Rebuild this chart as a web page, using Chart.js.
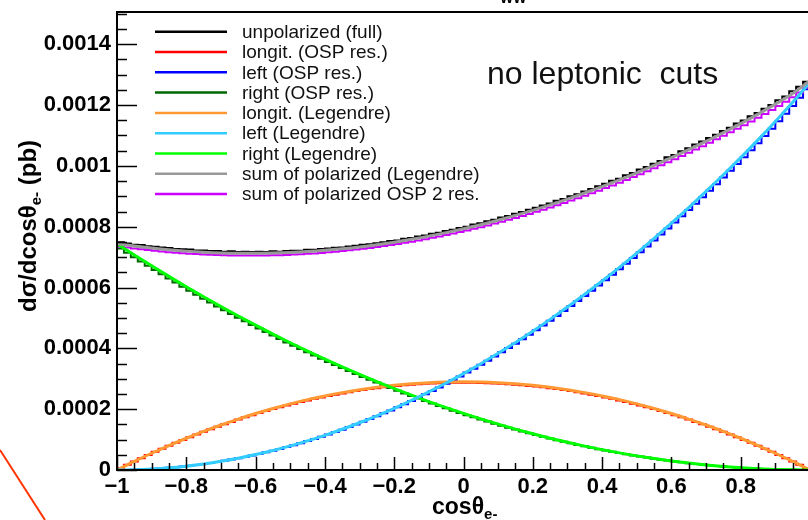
<!DOCTYPE html>
<html><head><meta charset="utf-8">
<script src="https://cdn.jsdelivr.net/npm/chart.js@4/dist/chart.umd.min.js"></script>
<style>
html,body{margin:0;padding:0;background:#fff;overflow:hidden;width:808px;height:520px;}
#wrap{position:absolute;left:0;top:0;width:830px;height:520px;}
</style></head><body>
<div id="wrap"><canvas id="c" width="830" height="520"></canvas></div>
<script>
// x: cos(theta_e-) ; y: dsigma/dcos in units of 1e-4 pb
const xMin = -1, xMax = 1, nBins = 100;
const yTop = 15.06;

// histograms (100 bins, values per bin, units 1e-4 pb)
const unpolarizedFull = [7.49,7.45,7.41,7.40,7.36,7.34,7.32,7.30,7.27,7.26,
7.25,7.22,7.22,7.20,7.20,7.18,7.19,7.17,7.18,7.17,
7.18,7.17,7.19,7.18,7.20,7.21,7.21,7.24,7.24,7.27,
7.28,7.31,7.32,7.35,7.37,7.41,7.42,7.46,7.49,7.53,
7.55,7.60,7.63,7.68,7.71,7.77,7.80,7.86,7.90,7.96,
8.00,8.07,8.11,8.18,8.23,8.30,8.35,8.43,8.48,8.56,
8.62,8.70,8.76,8.85,8.91,9.00,9.07,9.16,9.24,9.33,
9.41,9.51,9.58,9.69,9.77,9.88,9.96,10.07,10.16,10.28,
10.36,10.48,10.58,10.70,10.80,10.92,11.02,11.15,11.25,11.39,
11.49,11.63,11.74,11.88,12.00,12.16,12.28,12.45,12.60,12.77];

const longitOSP = [0.057,0.170,0.280,0.388,0.493,0.597,0.698,0.796,0.893,0.987,
1.079,1.168,1.256,1.341,1.423,1.504,1.582,1.657,1.731,1.802,
1.871,1.938,2.002,2.064,2.124,2.181,2.236,2.289,2.339,2.388,
2.434,2.477,2.518,2.558,2.594,2.629,2.661,2.691,2.718,2.743,
2.766,2.787,2.805,2.822,2.835,2.847,2.856,2.863,2.867,2.870,
2.870,2.867,2.863,2.856,2.847,2.835,2.822,2.805,2.787,2.766,
2.743,2.718,2.691,2.661,2.629,2.594,2.558,2.518,2.477,2.434,
2.388,2.339,2.289,2.236,2.181,2.124,2.064,2.002,1.938,1.871,
1.802,1.731,1.657,1.582,1.504,1.423,1.341,1.256,1.168,1.079,
0.987,0.893,0.796,0.698,0.597,0.493,0.388,0.280,0.170,0.057];

const leftOSP = [0.000,0.003,0.008,0.015,0.025,0.038,0.053,0.071,0.091,0.113,
0.138,0.166,0.196,0.229,0.264,0.302,0.342,0.385,0.430,0.478,
0.528,0.581,0.636,0.694,0.754,0.817,0.882,0.950,1.020,1.093,
1.168,1.246,1.327,1.410,1.495,1.583,1.673,1.766,1.862,1.960,
2.060,2.163,2.269,2.377,2.487,2.600,2.716,2.834,2.954,3.078,
3.203,3.331,3.462,3.595,3.731,3.869,4.010,4.153,4.298,4.447,
4.597,4.751,4.906,5.065,5.225,5.389,5.554,5.723,5.894,6.067,
6.243,6.421,6.602,6.785,6.971,7.160,7.350,7.544,7.740,7.938,
8.139,8.343,8.549,8.757,8.968,9.182,9.398,9.616,9.837,10.061,
10.287,10.516,10.747,10.980,11.220,11.465,11.715,11.970,12.240,12.520];

const rightOSP = [7.287,7.141,6.997,6.854,6.713,6.573,6.434,6.297,6.162,6.028,
5.896,5.765,5.635,5.507,5.380,5.255,5.132,5.009,4.889,4.770,
4.652,4.535,4.421,4.307,4.195,4.085,3.976,3.869,3.763,3.658,
3.555,3.453,3.353,3.255,3.158,3.062,2.968,2.875,2.784,2.694,
2.606,2.519,2.433,2.349,2.267,2.186,2.106,2.029,1.952,1.877,
1.803,1.731,1.661,1.591,1.524,1.458,1.393,1.329,1.268,1.207,
1.148,1.091,1.035,0.981,0.928,0.876,0.826,0.777,0.730,0.685,
0.641,0.598,0.557,0.517,0.479,0.442,0.407,0.373,0.340,0.309,
0.280,0.252,0.225,0.200,0.177,0.155,0.134,0.115,0.097,0.081,
0.066,0.053,0.041,0.031,0.022,0.015,0.009,0.005,0.002,0.000];

const sumPolarizedOSP = [7.344,7.314,7.285,7.257,7.231,7.208,7.185,7.164,7.146,7.128,
7.113,7.099,7.087,7.077,7.067,7.061,7.056,7.051,7.050,7.050,
7.051,7.054,7.059,7.065,7.073,7.083,7.094,7.108,7.122,7.139,
7.157,7.176,7.198,7.223,7.247,7.274,7.302,7.332,7.364,7.397,
7.432,7.469,7.507,7.548,7.589,7.633,7.678,7.726,7.773,7.825,
7.876,7.929,7.986,8.042,8.102,8.162,8.225,8.287,8.353,8.420,
8.488,8.560,8.632,8.707,8.782,8.859,8.938,9.018,9.101,9.186,
9.272,9.358,9.448,9.538,9.631,9.726,9.821,9.919,10.018,10.118,
10.221,10.326,10.431,10.539,10.649,10.760,10.873,10.987,11.102,11.221,
11.340,11.462,11.584,11.709,11.839,11.973,12.112,12.255,12.412,12.577];

// Legendre fit curves, sampled every 0.05 in cos(theta) from -1 to 1
const longitLegendre = [0,0.283,0.551,0.805,1.044,1.269,1.479,1.675,1.856,2.023,2.175,2.313,2.436,2.545,2.639,2.719,2.784,2.835,2.871,2.893,2.900,2.893,2.871,2.835,2.784,2.719,2.639,2.545,2.436,2.313,2.175,2.023,1.856,1.675,1.479,1.269,1.044,0.805,0.551,0.283,0];
const leftLegendre = [0,0.008,0.032,0.071,0.127,0.198,0.285,0.388,0.507,0.642,0.793,0.959,1.141,1.339,1.553,1.783,2.029,2.290,2.568,2.861,3.170,3.495,3.836,4.192,4.565,4.953,5.357,5.777,6.213,6.665,7.133,7.616,8.115,8.630,9.161,9.708,10.271,10.855,11.460,12.090,12.750];
const rightLegendre = [7.440,7.073,6.715,6.366,6.026,5.696,5.375,5.064,4.762,4.469,4.185,3.911,3.646,3.390,3.143,2.906,2.678,2.460,2.251,2.051,1.860,1.679,1.507,1.344,1.190,1.046,0.911,0.786,0.670,0.563,0.465,0.377,0.298,0.228,0.167,0.116,0.074,0.042,0.019,0.005,0];
const sumLegendre = [7.440,7.364,7.298,7.242,7.197,7.163,7.139,7.127,7.125,7.134,7.153,7.183,7.223,7.274,7.335,7.408,7.491,7.585,7.690,7.805,7.930,8.066,8.213,8.371,8.539,8.718,8.908,9.108,9.319,9.540,9.773,10.015,10.269,10.533,10.808,11.093,11.389,11.702,12.030,12.380,12.800];

const legendLabels = ['unpolarized (full)','longit. (OSP res.)','left (OSP res.)','right (OSP res.)','longit. (Legendre)','left (Legendre)','right (Legendre)','sum of polarized (Legendre)','sum of polarized OSP 2 res.'];
const legendColors = ['#000000','#ff0000','#0000ff','#006600','#ff9933','#33ccff','#00ff00','#999999','#cc00ff'];

const FONT = "'Liberation Sans', Arial, Helvetica, sans-serif";

const binEdges = Array.from({length: nBins + 1}, (_, i) => xMin + i * (xMax - xMin) / nBins);
const curveStep = (xMax - xMin) / (sumLegendre.length - 1);
const curveX = sumLegendre.map((_, k) => xMin + k * curveStep);

function histPoints(vals){
  const pts = vals.map((v, i) => ({x: binEdges[i], y: v}));
  pts.push({x: binEdges[nBins], y: vals[vals.length - 1]});
  return pts;
}
function curvePoints(vals){ return vals.map((v, k) => ({x: curveX[k], y: v})); }

function hist(label, vals, color, order){
  // 'before': horizontal at the bin value from its low edge to the next edge, then vertical
  return {label, data: histPoints(vals), borderColor: color, borderWidth: 2, stepped: 'before', pointRadius: 0, fill: false, order};
}
function curve(label, vals, color, order){
  return {label, data: curvePoints(vals), borderColor: color, borderWidth: 3, cubicInterpolationMode: 'monotone', pointRadius: 0, fill: false, order};
}

const datasets = [
  curve(legendLabels[7], sumLegendre, legendColors[7], 0),
  curve(legendLabels[5], leftLegendre, legendColors[5], 1),
  curve(legendLabels[6], rightLegendre, legendColors[6], 2),
  curve(legendLabels[4], longitLegendre, legendColors[4], 3),
  hist(legendLabels[8], sumPolarizedOSP, legendColors[8], 4),
  hist(legendLabels[2], leftOSP, legendColors[2], 5),
  hist(legendLabels[3], rightOSP, legendColors[3], 6),
  hist(legendLabels[1], longitOSP, legendColors[1], 7),
  hist(legendLabels[0], unpolarizedFull, legendColors[0], 8)
];

function fmtX(v){
  const r = Math.round(v * 10) / 10;
  if (r >= 0.99) return '';
  if (r === 0) return '0';
  const s = String(Math.abs(r));
  return (r < 0 ? '\u2212' : '') + s;
}
function fmtY(v){
  if (Math.abs(v) < 1e-9) return '0';
  return (v * 1e-4).toFixed(4).replace(/0+$/, '');
}

function line(ctx, x1, y1, x2, y2){ ctx.beginPath(); ctx.moveTo(x1, y1); ctx.lineTo(x2, y2); ctx.stroke(); }

function richText(ctx, parts, x, y){
  let cx = x;
  for (const p of parts){
    ctx.font = p.font;
    ctx.fillText(p.t, cx, y + (p.dy || 0));
    cx += ctx.measureText(p.t).width;
  }
}

const decor = {
  id: 'decor',
  afterDatasetsDraw(chart){
    const {ctx, chartArea: a, scales: {x, y}} = chart;
    ctx.save();
    ctx.strokeStyle = '#000';
    ctx.lineWidth = 2;
    // frame
    ctx.strokeRect(a.left, a.top, a.right - a.left, a.bottom - a.top);
    // inward ticks, y
    ctx.lineWidth = 1.5;
    for (let k = 0; ; k++){
      const v = k * 0.5;
      if (v > y.max) break;
      const py = Math.round(y.getPixelForValue(v)) + 0.5;
      line(ctx, a.left, py, a.left + (k % 4 === 0 ? 20 : 10), py);
    }
    // inward ticks, x
    for (let k = 0; k <= 40; k++){
      const v = xMin + k * 0.05;
      const px = Math.round(x.getPixelForValue(v)) + 0.5;
      line(ctx, px, a.bottom, px, a.bottom - (k % 4 === 0 ? 13 : 7));
    }
    // legend
    ctx.textBaseline = 'middle';
    ctx.textAlign = 'left';
    for (let i = 0; i < legendLabels.length; i++){
      const ly = 31.7 + i * 20.3;
      ctx.strokeStyle = legendColors[i];
      ctx.lineWidth = 2.5;
      line(ctx, 155, ly, 227, ly);
      ctx.fillStyle = '#111';
      ctx.font = '19px ' + FONT;
      ctx.fillText(legendLabels[i], 242, ly + 1);
    }
    // annotation
    ctx.textBaseline = 'alphabetic';
    ctx.fillStyle = '#111';
    ctx.font = '32px ' + FONT;
    ctx.fillText('no leptonic  cuts', 487, 84);
    // x title
    ctx.fillStyle = '#000';
    richText(ctx, [
      {t: 'cos\u03b8', font: 'bold 23px ' + FONT},
      {t: 'e-', font: 'bold 15px ' + FONT, dy: 5}
    ], 432, 514);
    // y title (rotated)
    ctx.save();
    ctx.translate(36, 312);
    ctx.rotate(-Math.PI / 2);
    richText(ctx, [
      {t: 'd\u03c3/dcos\u03b8', font: 'bold 24px ' + FONT},
      {t: 'e-', font: 'bold 15px ' + FONT, dy: 5},
      {t: ' (pb)', font: 'bold 24px ' + FONT}
    ], 0, 0);
    ctx.restore();
    // partial title subscript at top
    ctx.font = 'bold 14px ' + FONT;
    ctx.fillText('WW', 500, 3);
    // stray red line from neighbouring pad
    ctx.strokeStyle = '#ff3300';
    ctx.lineWidth = 2;
    line(ctx, 0, 450, 45, 520);
    ctx.restore();
  }
};

new Chart(document.getElementById('c'), {
  type: 'line',
  data: {datasets},
  options: {
    responsive: false,
    animation: false,
    events: [],
    devicePixelRatio: 1,
    layout: {padding: {top: 12, right: 20, left: 0, bottom: 0}},
    plugins: {legend: {display: false}, tooltip: {enabled: false}, title: {display: false}},
    elements: {point: {radius: 0}, line: {tension: 0}},
    scales: {
      x: {
        type: 'linear', min: xMin, max: xMax,
        afterFit(s){ s.height = 50; s.paddingLeft = 0; s.paddingRight = 0; },
        grid: {display: false, drawTicks: false},
        border: {display: false},
        ticks: {stepSize: 0.2, autoSkip: false, maxRotation: 0, includeBounds: false, padding: 4, color: '#000',
          font: {family: FONT, size: 22, weight: 'bold'}, callback: (v) => fmtX(v)}
      },
      y: {
        type: 'linear', min: 0, max: yTop,
        afterFit(s){ s.width = 117; s.paddingTop = 0; s.paddingBottom = 0; },
        grid: {display: false, drawTicks: false},
        border: {display: false},
        ticks: {stepSize: 2, autoSkip: false, includeBounds: false, padding: 6, color: '#000',
          font: {family: FONT, size: 22, weight: 'bold'}, callback: (v) => fmtY(v)}
      }
    }
  },
  plugins: [decor]
});
</script>
</body></html>
